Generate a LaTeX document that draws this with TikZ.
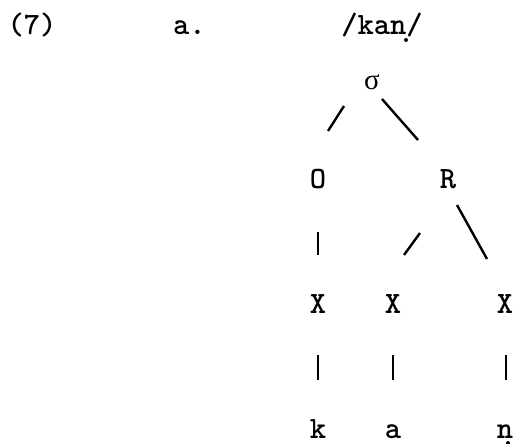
\documentclass[tikz,border=0pt]{standalone}
\usepackage{fontspec}
\newfontfamily\greekfont{Liberation Serif}
\tikzset{
  lbl/.style={inner sep=0pt, anchor=base, font=\fontsize{31}{33}\selectfont\ttfamily\bfseries},
  br/.style={line width=2.4pt, line cap=butt},
}
\begin{document}
\begin{tikzpicture}[x=1pt,y=-1pt]
\useasboundingbox (0,0) rectangle (517,444);
% header
\node[lbl] (num) at (32,35) {(7)};
\node[lbl, anchor=base west] (ex) at (173,35) {a.};
\node[lbl] (form) at (382,35) {/kan/};
\fill (406,40) circle (2);
% tree nodes
\node[lbl] (sig) at (372,90) {\greekfont\mdseries\fontsize{29}{31}\selectfont σ};
\node[lbl] (O) at (318,188) {O};
\node[lbl] (R) at (448,188) {R};
\node[lbl] (x1) at (318,313) {X};
\node[lbl] (x2) at (393,313) {X};
\node[lbl] (x3) at (505,313) {X};
\node[lbl] (s1) at (318,438) {k};
\node[lbl] (s2) at (393,438) {a};
\node[lbl] (s3) at (505,438) {n};
\fill (508,443) circle (2);
% connectors (as short strokes)
\coordinate (sl1) at (344,106); \coordinate (sl2) at (328,131);
\coordinate (sr1) at (382,99);  \coordinate (sr2) at (418,140);
\coordinate (o1) at (318,232);  \coordinate (o2) at (318,255);
\coordinate (rl1) at (420,233); \coordinate (rl2) at (404,255);
\coordinate (rr1) at (457,205); \coordinate (rr2) at (487,259);
\coordinate (v11) at (318,355); \coordinate (v12) at (318,380);
\coordinate (v21) at (393,355); \coordinate (v22) at (393,380);
\coordinate (v31) at (506,355); \coordinate (v32) at (506,380);
\draw[br] (sl1) -- (sl2);
\draw[br] (sr1) -- (sr2);
\draw[br] (o1) -- (o2);
\draw[br] (rl1) -- (rl2);
\draw[br] (rr1) -- (rr2);
\draw[br] (v11) -- (v12);
\draw[br] (v21) -- (v22);
\draw[br] (v31) -- (v32);
\end{tikzpicture}
\end{document}
